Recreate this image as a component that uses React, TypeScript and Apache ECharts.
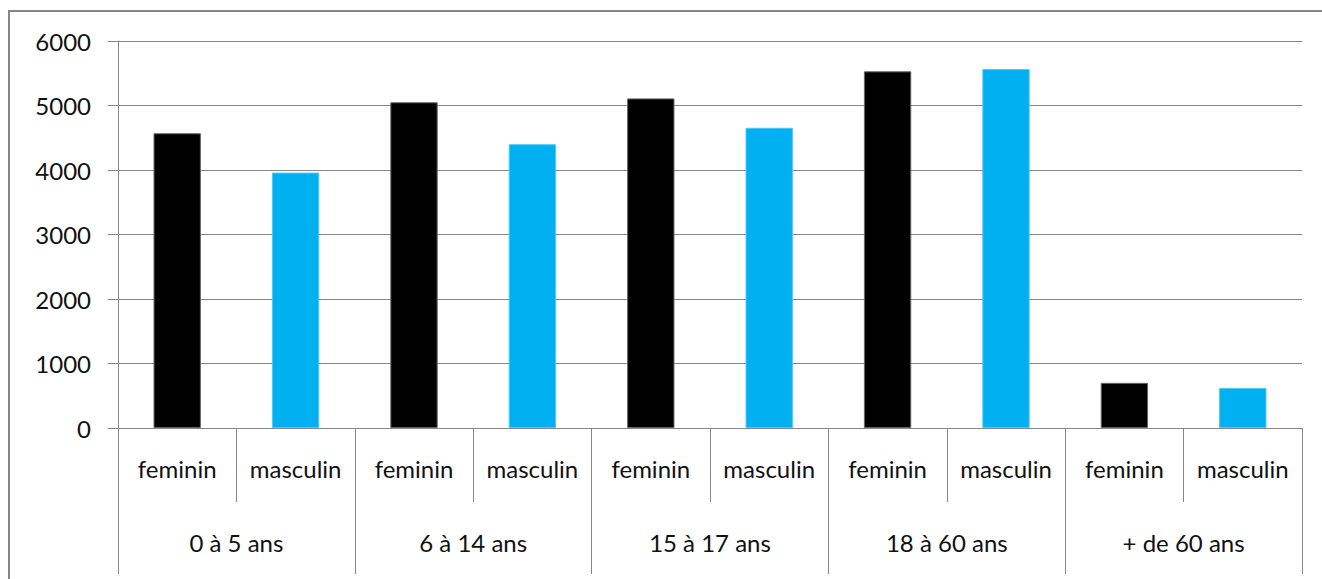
import React, { useEffect, useRef } from "react";
import * as echarts from "echarts";

const ageGroups = ["0 à 5 ans", "6 à 14 ans", "15 à 17 ans", "18 à 60 ans", "+ de 60 ans"];
const sexes = ["feminin", "masculin"];
const valuesFeminin = [4570, 5050, 5110, 5530, 700];
const valuesMasculin = [3960, 4400, 4655, 5565, 620];
const yTicks = { min: 0, max: 6000, interval: 1000 };

const colorFeminin = "#000000";
const colorMasculin = "#00B0F0";
const gray = "#868686";
const font = "Lato";

export default function App() {
  const ref = useRef<HTMLDivElement>(null);
  useEffect(() => {
    if (!ref.current) return;
    const chart = echarts.init(ref.current, null, { renderer: "svg" });
    const categories: string[] = [];
    const data: any[] = [];
    ageGroups.forEach((_, i) => {
      categories.push(sexes[0]);
      data.push({
        value: valuesFeminin[i],
        itemStyle: { color: colorFeminin, borderColor: "#666666", borderWidth: 1 },
      });
      categories.push(sexes[1]);
      data.push({
        value: valuesMasculin[i],
        itemStyle: { color: colorMasculin, borderColor: "#4fc8f5", borderWidth: 1 },
      });
    });
    chart.setOption({
      animation: false,
      backgroundColor: "#ffffff",
      grid: { left: 118, right: 20, top: 41, bottom: 151, containLabel: false },
      graphic: [
        {
          type: "rect",
          z: -10,
          shape: { x: 9, y: 11, width: 1400, height: 700 },
          style: { fill: "none", stroke: gray, lineWidth: 2 },
          silent: true,
        },
      ],
      xAxis: [
        {
          type: "category",
          data: categories,
          position: "bottom",
          axisLine: { show: true, lineStyle: { color: gray, width: 1 } },
          axisTick: { show: true, interval: 0, length: 74, lineStyle: { color: gray } },
          axisLabel: {
            interval: 0,
            margin: 28,
            color: "#111",
            fontFamily: font,
            fontSize: 24,
          },
          splitLine: { show: false },
        },
        {
          type: "category",
          data: ageGroups,
          position: "bottom",
          gridIndex: 0,
          axisLine: { show: false },
          axisTick: { show: true, interval: 0, length: 146, lineStyle: { color: gray } },
          axisLabel: {
            interval: 0,
            margin: 102,
            color: "#111",
            fontFamily: font,
            fontSize: 24,
          },
          splitLine: { show: false },
        },
      ],
      yAxis: {
        type: "value",
        min: yTicks.min,
        max: yTicks.max,
        interval: yTicks.interval,
        axisLine: { show: true, lineStyle: { color: gray, width: 1 } },
        axisTick: { show: true, length: 10, lineStyle: { color: gray } },
        axisLabel: {
          margin: 27,
          color: "#111",
          fontFamily: font,
          fontSize: 24,
          formatter: (v: number) => String(v),
        },
        splitLine: { show: true, lineStyle: { color: gray, width: 1 } },
      },
      series: [
        {
          type: "bar",
          xAxisIndex: 0,
          barWidth: "40%",
          data,
        },
      ],
    });
    return () => chart.dispose();
  }, []);
  return (
    <div
      ref={ref}
      style={{ position: "fixed", left: 0, top: 0, width: 1322, height: 579, background: "#fff" }}
    />
  );
}
